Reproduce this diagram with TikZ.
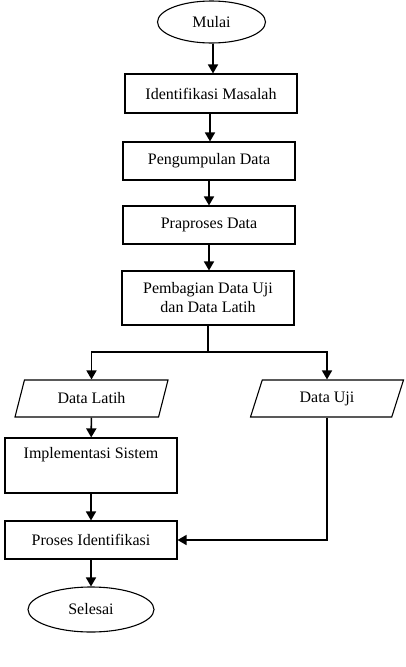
\documentclass[tikz,border=0pt]{standalone}
\usepackage{fontspec}
\setmainfont{Liberation Serif}
\usetikzlibrary{shapes.geometric,arrows.meta}
\begin{document}
\begin{tikzpicture}[x=1pt,y=-1pt,
  every node/.style={font=\fontsize{16}{19}\selectfont, inner sep=0pt},
  procbox/.style={draw, line width=1.1pt, rectangle, minimum width=172pt, align=center},
  termbox/.style={draw, line width=1.1pt, ellipse},
  iobox/.style={draw, line width=1.1pt, trapezium, trapezium left angle=50, trapezium right angle=130, trapezium stretches body, minimum width=153pt, minimum height=37pt},
  flow/.style={line width=1.6pt, -{Triangle[width=10pt,length=9pt]}},
  plain/.style={line width=1.6pt}]
\useasboundingbox (0,0) rectangle (405,667);
\node[termbox, minimum width=108pt, minimum height=42pt] (mulai) at (211.5,22) {Mulai};
\node[procbox, minimum height=39pt] (ident) at (211,93.5) {Identifikasi Masalah};
\node[procbox, minimum height=38pt] (kumpul) at (209,161) {Pengumpulan Data};
\node[procbox, minimum height=38pt] (prapro) at (209,225) {Praproses Data};
\node[procbox, minimum height=54pt] (bagi) at (208,298) {Pembagian Data Uji\\dan Data Latih};
\coordinate (split) at (208,352);
\node[iobox] (latih) at (91.5,398.5) {Data Latih};
\node[iobox] (uji) at (327,398.5) {Data Uji};
\node[procbox, minimum height=55pt] (impl) at (91,465.5) {Implementasi Sistem\\\strut};
\node[procbox, minimum height=38pt] (proses) at (91,540) {Proses Identifikasi};
\node[termbox, minimum width=126pt, minimum height=45pt] (selesai) at (91,609.5) {Selesai};
\draw[flow] ([xshift=1.5pt]mulai.south) -- ([xshift=1.5pt]mulai.south |- ident.north);
\draw[flow] ([xshift=-1pt]ident.south) -- ([xshift=-1pt]ident.south |- kumpul.north);
\draw[flow] (kumpul) -- (prapro);
\draw[flow] (prapro.south) -- (prapro.south |- bagi.north);
\draw[plain] (bagi.south -| split) -- (split);
\draw[flow] (split) -| (latih.north);
\draw[flow] (split) -| (uji.north);
\draw[flow] (latih) -- (impl);
\draw[flow] (impl) -- (proses);
\draw[flow] (uji.south) |- (proses.east);
\draw[flow] (proses) -- (selesai);
\end{tikzpicture}
\end{document}
